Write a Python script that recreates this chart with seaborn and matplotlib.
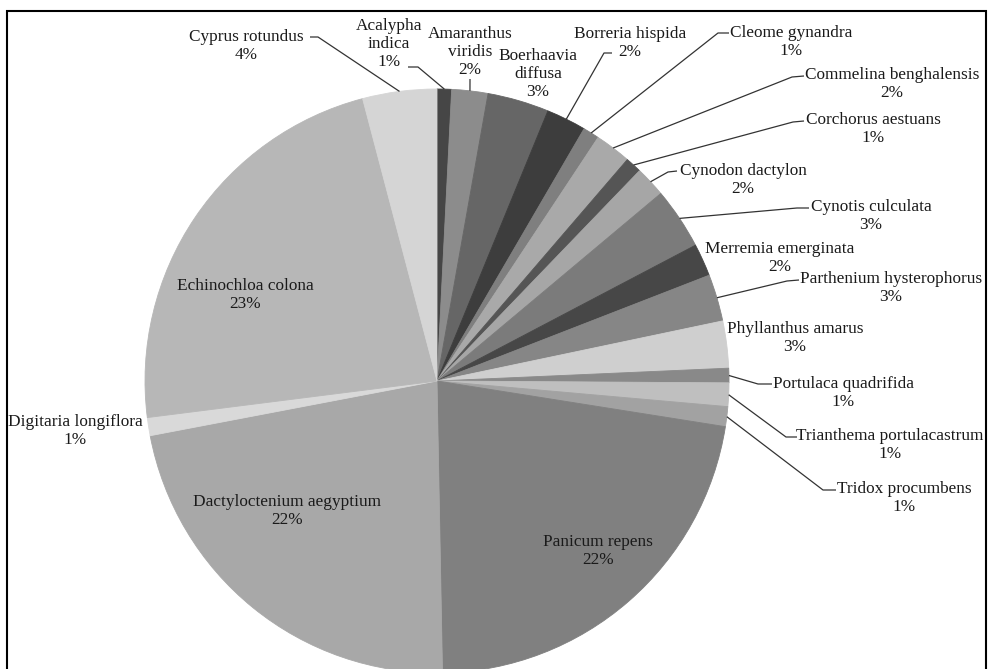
import matplotlib
matplotlib.use("Agg")
import matplotlib.pyplot as plt
from matplotlib.patches import Rectangle
import numpy as np
import seaborn as sns

# Weed species composition (% of total), clockwise from 12 o'clock
species = [
    "Acalypha indica", "Amaranthus viridis", "Boerhaavia diffusa",
    "Borreria hispida", "Cleome gynandra", "Commelina benghalensis",
    "Corchorus aestuans", "Cynodon dactylon", "Cynotis culculata",
    "Merremia emerginata", "Parthenium hysterophorus", "Phyllanthus amarus",
    "Portulaca quadrifida", "Trianthema portulacastrum", "Tridox procumbens",
    "Panicum repens", "Dactyloctenium aegyptium", "Digitaria longiflora",
    "Echinochloa colona", "Cyprus rotundus",
]
shares = [
    0.8, 2.0, 3.4,
    2.2, 0.9, 2.0,
    0.9, 1.7, 3.4,
    1.8, 2.6, 2.6,
    0.8, 1.3, 1.1,
    22.2, 22.3, 1.0,
    22.9, 4.1,
]
slice_colors = [
    "#464646", "#8c8c8c", "#666666",
    "#3d3d3d", "#7f7f7f", "#a9a9a9",
    "#555555", "#a6a6a6", "#7b7b7b",
    "#474747", "#868686", "#cfcfcf",
    "#898989", "#bfbfbf", "#a2a2a2",
    "#808080", "#a8a8a8", "#d9d9d9",
    "#b7b7b7", "#d5d5d5",
]

sns.set_theme(style="white")
plt.rcParams["font.family"] = ["Liberation Serif", "DejaVu Serif"]

W, H = 988, 669
fig = plt.figure(figsize=(W / 100, H / 100), dpi=100)
ax = fig.add_axes([0, 0, 1, 1])

# pie geometry in pixel units (y measured from the bottom)
cx, cy, r = 437, H - 381, 292

wedges, _ = ax.pie(
    shares, colors=slice_colors, startangle=90, counterclock=False,
    center=(cx, cy), radius=r,
)
for w in wedges:
    w.set_edgecolor(w.get_facecolor())
    w.set_linewidth(0.6)

ax.set_xlim(0, W)
ax.set_ylim(0, H)
ax.set_aspect("equal")
ax.axis("off")

# label block centres (x, y from top) and optional leader elbows
label_xy = {
    "Acalypha indica": (389, 44),
    "Amaranthus viridis": (470, 52),
    "Boerhaavia diffusa": (538, 74),
    "Borreria hispida": (630, 43),
    "Cleome gynandra": (791, 42),
    "Commelina benghalensis": (892, 84),
    "Corchorus aestuans": (873, 129),
    "Cynodon dactylon": (743, 180),
    "Cynotis culculata": (871, 216),
    "Merremia emerginata": (780, 258),
    "Parthenium hysterophorus": (891, 288),
    "Phyllanthus amarus": (795, 338),
    "Portulaca quadrifida": (843, 393),
    "Trianthema portulacastrum": (890, 445),
    "Tridox procumbens": (904, 498),
    "Panicum repens": (598, 551),
    "Dactyloctenium aegyptium": (287, 511),
    "Digitaria longiflora": (75, 431),
    "Echinochloa colona": (245, 295),
    "Cyprus rotundus": (246, 46),
}
wrapped = {"Acalypha indica", "Amaranthus viridis", "Boerhaavia diffusa"}
leaders = {
    "Acalypha indica": [(408, 67), (418, 67)],
    "Amaranthus viridis": [(470, 79), (470, 80)],
    "Borreria hispida": [(612, 53), (604, 53)],
    "Cleome gynandra": [(729, 33), (718, 33)],
    "Commelina benghalensis": [(804, 76), (792, 77)],
    "Corchorus aestuans": [(804, 121), (793, 122)],
    "Cynodon dactylon": [(677, 171), (668, 172)],
    "Cynotis culculata": [(809, 208), (797, 208)],
    "Parthenium hysterophorus": [(799, 280), (787, 281)],
    "Portulaca quadrifida": [(772, 384), (758, 384)],
    "Trianthema portulacastrum": [(797, 437), (786, 437)],
    "Tridox procumbens": [(836, 490), (823, 490)],
    "Cyprus rotundus": [(310, 37), (318, 37)],
}
line_step = 18.5  # px between stacked label lines

total = sum(shares)
for name, val, w in zip(species, shares, wedges):
    pct = round(100 * val / total)
    lines = (name.split(" ") if name in wrapped else [name]) + [f"{pct}%"]
    x, y = label_xy[name]
    n = len(lines)
    for i, line in enumerate(lines):
        ly = y + (i - (n - 1) / 2) * line_step
        ax.text(x, H - ly, line, ha="center", va="center",
                fontsize=12.4, color="#1a1a1a")
    if name in leaders:
        mid = np.deg2rad((w.theta1 + w.theta2) / 2)
        px, py = cx + r * np.cos(mid), cy + r * np.sin(mid)
        (ax1, ay1), (ax2, ay2) = leaders[name]
        ax.plot([ax1, ax2, px], [H - ay1, H - ay2, py],
                color="#333333", lw=0.9, solid_capstyle="butt")

# outer frame
fig.patches.append(Rectangle((7 / W, -0.05), (986 - 7) / W, (H - 11) / H + 0.05,
                             transform=fig.transFigure, fill=False,
                             edgecolor="black", linewidth=1.5))

fig.savefig("out.png", dpi=100, facecolor="white")
